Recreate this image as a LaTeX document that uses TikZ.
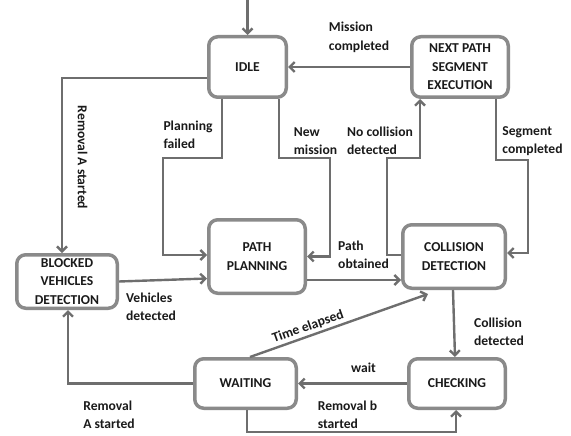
\documentclass[tikz,border=0pt]{standalone}
\usepackage{fontspec}
\setmainfont{Carlito}
\usetikzlibrary{arrows.meta,calc}
\definecolor{boxgray}{HTML}{8A8A8A}
\definecolor{linegray}{HTML}{6E6E6E}
\definecolor{txt}{HTML}{1A1A1A}
\begin{document}
\begin{tikzpicture}[x=1pt,y=-1pt,
  font=\fontsize{13.6}{18.5}\selectfont\bfseries,
  state/.style={draw=boxgray,line width=3.5pt,rounded corners=9pt,fill=white,
    text=txt,align=center,inner sep=2pt},
  lbl/.style={text=txt,align=left,inner sep=0pt},
  arr/.style={draw=linegray,line width=2.4pt,
    -{Straight Barb[length=5pt,width=10pt]}}]
\useasboundingbox (0,0) rectangle (571,436);
% states
\node[state,minimum width=77.5pt,minimum height=60.5pt] (idle) at (247.5,67) {IDLE};
\node[state,minimum width=96.5pt,minimum height=60.5pt] (next) at (460,67) {NEXT PATH\\SEGMENT\\EXECUTION};
\node[state,minimum width=100.5pt,minimum height=53.5pt] (blocked) at (67,281.5) {BLOCKED\\VEHICLES\\DETECTION};
\node[state,minimum width=96.5pt,minimum height=73.5pt] (plan) at (257,256.5) {PATH\\PLANNING};
\node[state,minimum width=102.5pt,minimum height=63.5pt] (coll) at (454,256.5) {COLLISION\\DETECTION};
\node[state,minimum width=101.5pt,minimum height=49.5pt] (wait) at (245.5,383.5) {WAITING};
\node[state,minimum width=96.5pt,minimum height=49.5pt] (check) at (457,383.5) {CHECKING};
% entry
\coordinate (start) at (247.5,0);
\draw[arr] (start) -- (idle.north);
% connectors
\draw[arr] (next.west) -- (idle.west -| idle.east);
\draw[arr] ($(idle.west)+(0,11)$) -| ([xshift=-5pt]blocked.north);
\draw[arr] ([xshift=-25.5pt]idle.south) |- (163,158) |- ([yshift=1.5pt]plan.west);
\draw[arr] ([xshift=31.5pt]idle.south) |- (330,158) |- (plan.east);
\draw[arr] ([yshift=-23.5pt]plan.east) -- ([yshift=-23.5pt]coll.west);
\draw[arr] (blocked.east) -- ([yshift=-22pt]plan.west);
\draw[arr] ([yshift=1.5pt]coll.west) -| (387,158) -| ([xshift=-40pt]next.south);
\draw[arr] ([xshift=36pt]next.south) |- (528,160) |- ([yshift=3.5pt]coll.east);
\draw[arr] ([xshift=-1pt]coll.south) -- ([xshift=-2pt]check.north);
\draw[arr] (check.west) -- (wait.east);
\draw[arr] ([xshift=4.5pt]wait.north) -- ([xshift=-26pt,yshift=-4pt]coll.south);
\draw[arr] (wait.west) -| ([xshift=1pt]blocked.south);
\draw[arr] ([xshift=1.5pt]wait.south) -- ++(0,22) -| ([xshift=-1pt]check.south);
% labels
\node[lbl] (l1) at (359,37.5) {Mission\\completed};
\node[lbl,rotate=-90] (l2) at (82.5,157.5) {Removal A started};
\node[lbl] (l3) at (188,135) {Planning\\failed};
\node[lbl] (l4) at (315.5,141) {New\\mission};
\node[lbl] (l5) at (380,141) {No collision\\detected};
\node[lbl] (l6) at (532.5,141) {Segment\\completed};
\node[lbl] (l7) at (363.5,255) {Path\\obtained};
\node[lbl] (l8) at (151,307) {Vehicles\\detected};
\node[lbl] (l9) at (499,332) {Collision\\detected};
\node[lbl] (l10) at (363.5,368) {wait};
\node[lbl] (l11) at (347.5,415) {Removal b\\started};
\node[lbl] (l12) at (109,415) {Removal\\A started};
\node[lbl,rotate=19.5] (l13) at (308,327) {Time elapsed};
\end{tikzpicture}
\end{document}
